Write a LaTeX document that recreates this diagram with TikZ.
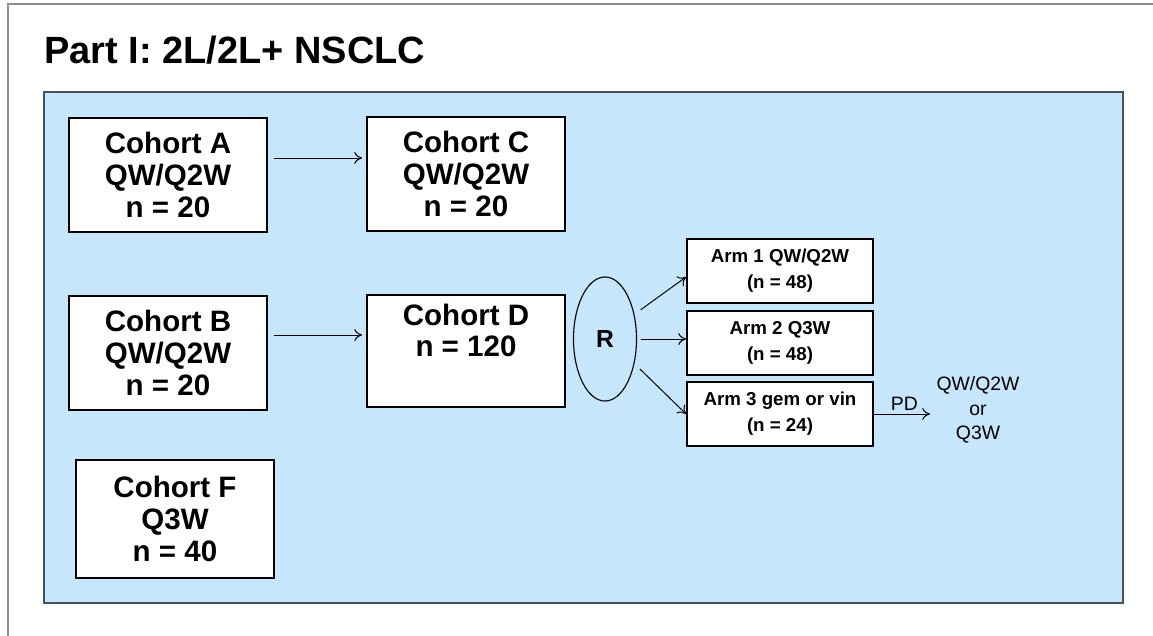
\documentclass[tikz,border=0pt]{standalone}
\usepackage{fontspec}
\setmainfont{Liberation Sans}
\definecolor{panelblue}{RGB}{198,230,251}
\definecolor{paneledge}{RGB}{72,82,92}
\definecolor{framegray}{RGB}{140,140,140}
\usetikzlibrary{arrows.meta,positioning,shapes.geometric,calc}

\begin{document}
\begin{tikzpicture}[x=0.025cm, y=-0.025cm,
  cohortbox/.style={draw=black, fill=white, line width=1.3pt, minimum width=4.95cm, minimum height=2.85cm, align=center, inner sep=0pt, font=\fontsize{21}{22.5}\selectfont\bfseries},
  armbox/.style={draw=black, fill=white, line width=1.3pt, minimum width=4.65cm, minimum height=1.6cm, align=center, inner sep=0pt, font=\fontsize{13.3}{18.5}\selectfont\bfseries},
  arr/.style={-{To[length=5.5pt,width=8.5pt]}, line width=0.7pt}]
  \useasboundingbox (0,0) rectangle (1153,636);
  \draw[framegray, line width=1.4pt] (8,640) -- (8,4) -- (1160,4);
  \node[anchor=base west, inner sep=0pt, font=\fontsize{27}{30}\selectfont\bfseries] (title) at (44,64) {Part I: 2L/2L+ NSCLC};
  \draw[fill=panelblue, draw=paneledge, line width=1.2pt] (44,92) rectangle (1123,603);

  % cohorts
  \node[cohortbox] (cohortA) at (168,175) {Cohort A\\QW/Q2W\\n = 20};
  \node[cohortbox] (cohortC) at (466,174) {Cohort C\\QW/Q2W\\n = 20};
  \node[cohortbox] (cohortB) at (168,353) {Cohort B\\QW/Q2W\\n = 20};
  \node[cohortbox, minimum height=2.78cm] (cohortD) at (466,351) {Cohort D\\n = 120\\\strut};
  \node[cohortbox, minimum height=2.95cm] (cohortF) at (175,519) {Cohort F\\Q3W\\n = 40};

  % randomisation and arms
  \node[draw, ellipse, line width=0.8pt, minimum width=1.575cm, minimum height=3.1cm, inner sep=0pt, font=\fontsize{17.5}{20}\selectfont\bfseries] (rand) at (605,339) {R};
  \node[armbox] (arm1) at (780,271) {Arm 1 QW/Q2W\\(n = 48)};
  \node[armbox] (arm2) at (780,343) {Arm 2 Q3W\\(n = 48)};
  \node[armbox] (arm3) at (780,414) {Arm 3 gem or vin\\(n = 24)};
  \node[align=center, inner sep=1pt, font=\fontsize{13.8}{17.5}\selectfont] (switch) at (978,410) {QW/Q2W\\or\\Q3W};

  \coordinate (rowAC) at (0,158);
  \coordinate (rowBD) at (0,335);
  \draw[arr, shorten <=0.15cm, shorten >=0.1cm] (cohortA.east |- rowAC) -- (cohortC.west |- rowAC);
  \draw[arr, shorten <=0.15cm, shorten >=0.1cm] (cohortB.east |- rowBD) -- (cohortD.west |- rowBD);
  \draw[arr, shorten <=0.19cm] (rand.40) -- ($(arm1.west)+(0,6)$);
  \draw[arr, shorten <=0.09cm] (rand.east) -- (rand.east -| arm2.west);
  \draw[arr, shorten <=0.19cm] (rand.-40) -- (arm3.west);
  \draw[arr, shorten >=0.12cm] (arm3.east) -- node[above=-1pt, font=\fontsize{13.8}{16}\selectfont] (pd) {PD} (arm3.east -| switch.west);
\end{tikzpicture}
\end{document}
